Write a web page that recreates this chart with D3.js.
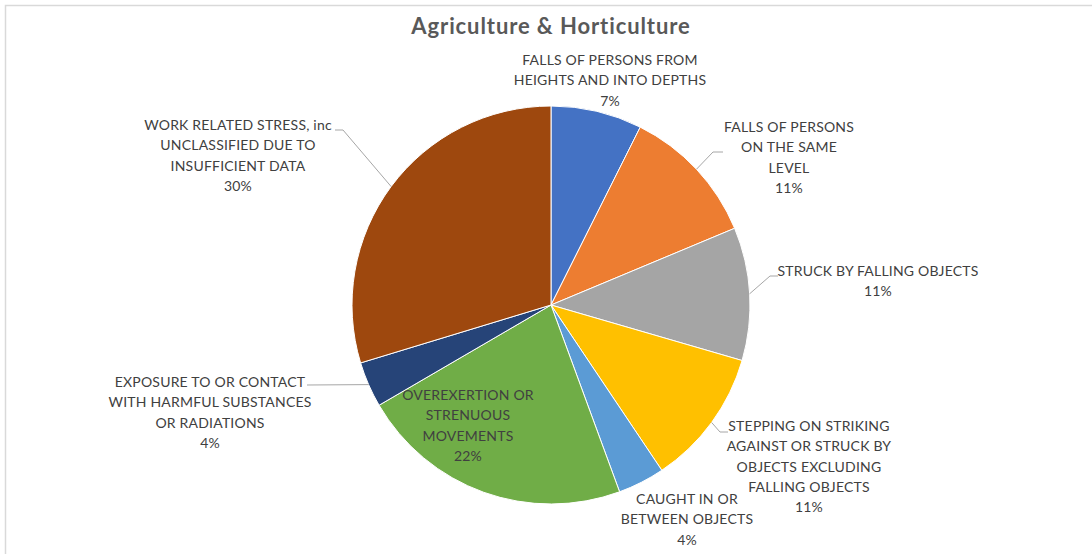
<!DOCTYPE html>
<html>
<head>
<meta charset="utf-8">
<script src="https://cdn.jsdelivr.net/npm/d3@7"></script>
<style>
  html, body { margin: 0; padding: 0; background: #fff; }
  svg { display: block; }
</style>
</head>
<body>
<svg id="chart" width="1092" height="554"></svg>
<script>
// Injury categories (line breaks mark how each label wraps)
const categories = [
  "FALLS OF PERSONS FROM\nHEIGHTS AND INTO DEPTHS",
  "FALLS OF PERSONS\nON THE SAME\nLEVEL",
  "STRUCK BY FALLING OBJECTS",
  "STEPPING ON STRIKING\nAGAINST OR STRUCK BY\nOBJECTS EXCLUDING\nFALLING OBJECTS",
  "CAUGHT IN OR\nBETWEEN OBJECTS",
  "OVEREXERTION OR\nSTRENUOUS\nMOVEMENTS",
  "EXPOSURE TO OR CONTACT\nWITH HARMFUL SUBSTANCES\nOR RADIATIONS",
  "WORK RELATED STRESS, inc\nUNCLASSIFIED DUE TO\nINSUFFICIENT DATA"
];
// Share of cases, percent
const shares = [7.4, 11.3, 10.8, 11.1, 3.8, 22.2, 3.7, 29.7];
const colors = ["#4472C4", "#ED7D31", "#A5A5A5", "#FFC000", "#5B9BD5", "#70AD47", "#264478", "#9E480E"];

// Label placement: text centre x, first baseline y, optional leader elbow/end
const labelLayout = [
  { x: 610, y: 65 },
  { x: 789, y: 132, elbow: [713, 152], end: [723, 152] },
  { x: 878, y: 276, elbow: [770, 276], end: [778, 276] },
  { x: 809, y: 431, elbow: [720, 432], end: [728, 432] },
  { x: 687, y: 504 },
  { x: 468, y: 400 },
  { x: 210, y: 387, end: [307, 385] },
  { x: 238, y: 130, elbow: [343, 130], end: [335, 130] }
];

const W = 1092, H = 554;
const cx = 551, cy = 305, R = 199;
const lineH = 20.3;
const svg = d3.select("#chart");

// Chart area frame
svg.append("rect")
  .attr("x", 5.5).attr("y", 5.5)
  .attr("width", W + 10).attr("height", H + 10)
  .attr("fill", "#fff").attr("stroke", "#d9d9d9").attr("stroke-width", 1.5);

// Title
svg.append("text")
  .attr("x", cx).attr("y", 34)
  .attr("text-anchor", "middle")
  .attr("font-family", "Lato, 'Open Sans', sans-serif")
  .attr("font-weight", "bold")
  .attr("font-size", 22)
  .attr("letter-spacing", 0.9)
  .attr("fill", "#595959")
  .text("Agriculture & Horticulture");

const data = categories.map((c, i) => ({ name: c, value: shares[i], color: colors[i], layout: labelLayout[i] }));

const pie = d3.pie().sort(null).value(d => d.value);
const arc = d3.arc().innerRadius(0).outerRadius(R);
const arcs = pie(data);

const g = svg.append("g").attr("transform", `translate(${cx},${cy})`);
g.selectAll("path.slice")
  .data(arcs)
  .join("path")
  .attr("class", "slice")
  .attr("d", arc)
  .attr("fill", d => d.data.color)
  .attr("stroke", "#fff")
  .attr("stroke-width", 1);

const total = d3.sum(shares);
const fmt = v => Math.round(v / total * 100) + "%";

// Leader lines from slice edge to label
arcs.forEach(a => {
  const L = a.data.layout;
  if (!L.end) return;
  const mid = (a.startAngle + a.endAngle) / 2;
  const sx = cx + R * Math.sin(mid), sy = cy - R * Math.cos(mid);
  const pts = [[sx, sy]];
  if (L.elbow) pts.push(L.elbow);
  pts.push(L.end);
  svg.append("path")
    .attr("d", d3.line()(pts))
    .attr("fill", "none")
    .attr("stroke", "#a6a6a6")
    .attr("stroke-width", 1);
});

// Category labels with percentage
arcs.forEach(a => {
  const L = a.data.layout;
  const lines = a.data.name.split("\n").concat([fmt(a.data.value)]);
  const t = svg.append("text")
    .attr("text-anchor", "middle")
    .attr("font-family", "Lato, 'Open Sans', sans-serif")
    .attr("font-size", 14)
    .attr("letter-spacing", 0.2)
    .attr("fill", "#404040");
  lines.forEach((ln, k) => {
    t.append("tspan").attr("x", L.x).attr("y", L.y + k * lineH).text(ln);
  });
});
</script>
</body>
</html>
